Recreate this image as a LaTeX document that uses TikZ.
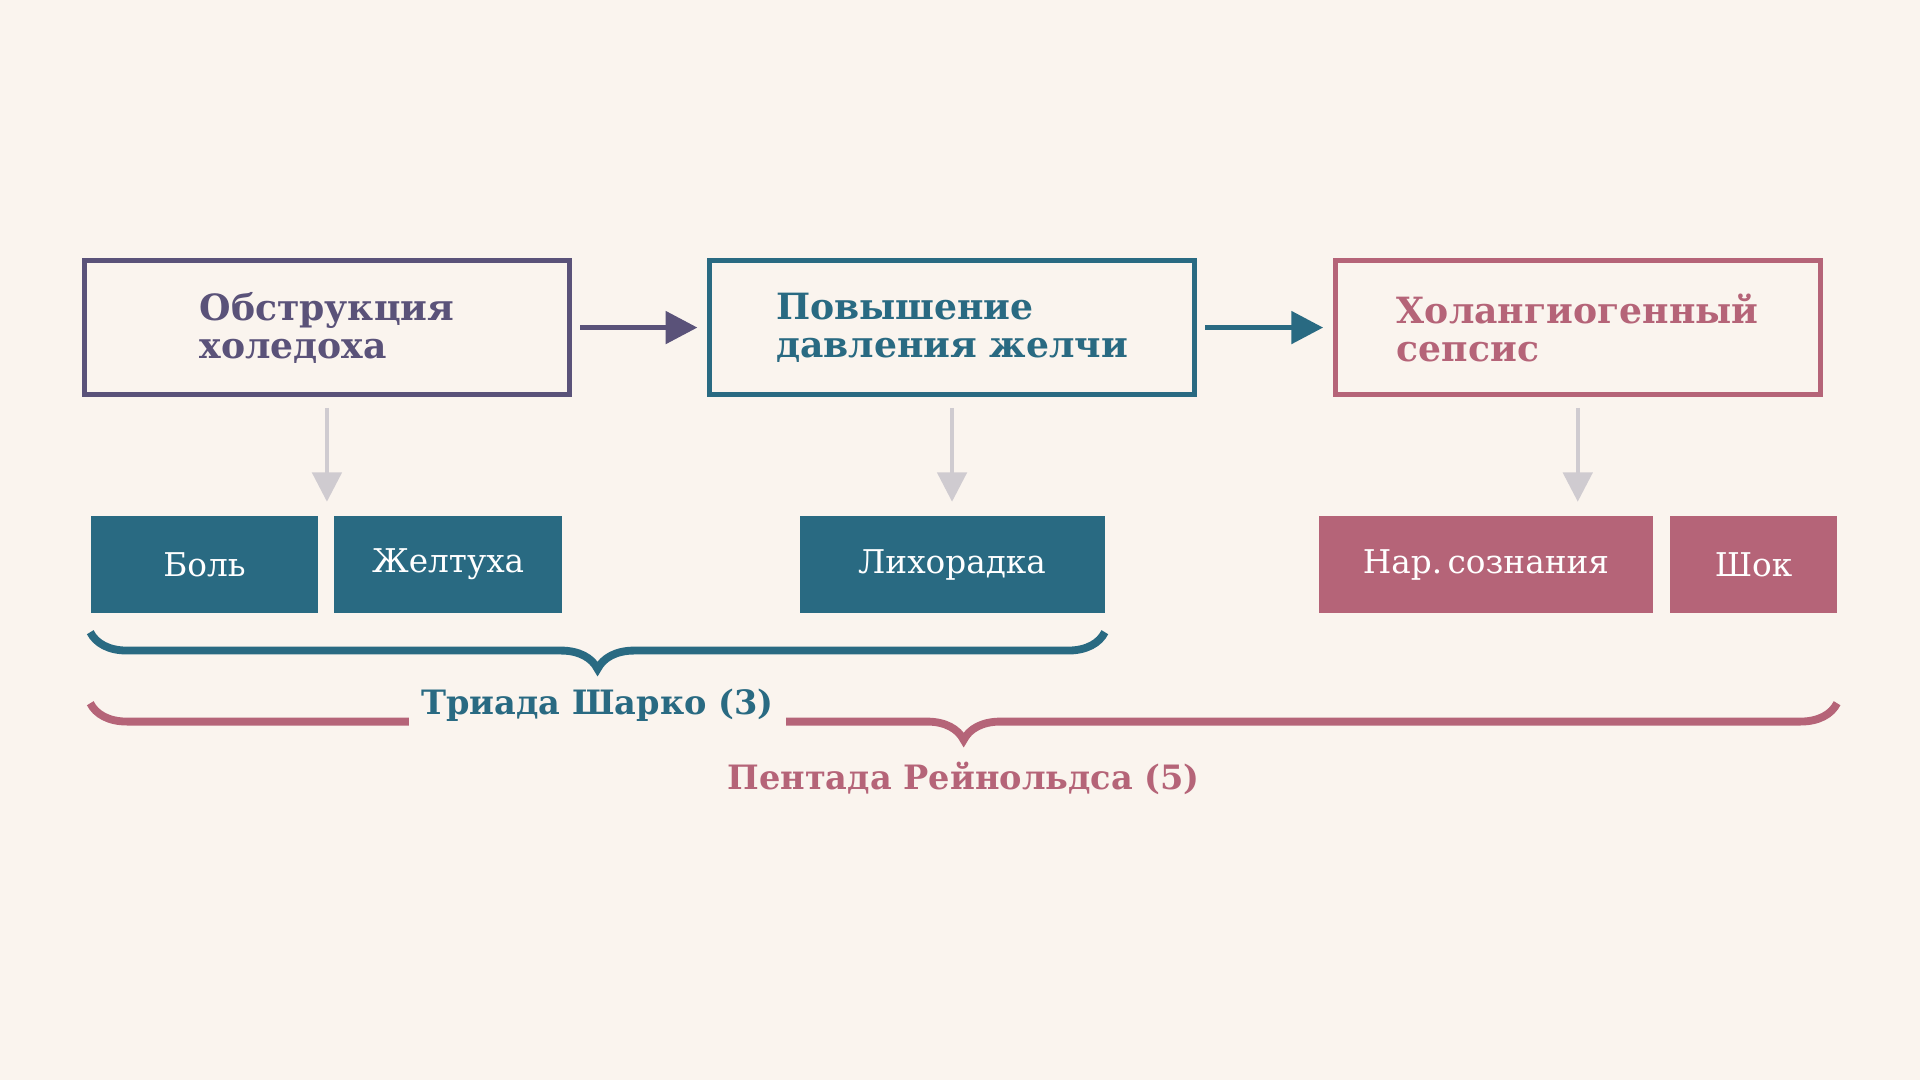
\documentclass[tikz,border=0pt]{standalone}
\usepackage{fontspec}
\setmainfont{DejaVu Serif}
\usetikzlibrary{arrows.meta,decorations.pathreplacing}
\definecolor{bgcol}{HTML}{FAF4EE}
\definecolor{obstrcol}{HTML}{5A5279}
\definecolor{davlcol}{HTML}{296A82}
\definecolor{sepscol}{HTML}{B56478}
\definecolor{greycol}{HTML}{CFCBD0}
\begin{document}
\begin{tikzpicture}[x=0.25mm,y=-0.25mm,
    titlebox/.style={draw=#1,text=#1,line width=0.95mm,minimum width=99mm,minimum height=27.3mm,
      align=left,font=\bfseries\fontsize{21}{22}\selectfont},
    signbox/.style={fill=#1,text=white,minimum height=20mm,inner sep=0pt,
      font=\fontsize{19}{19}\selectfont},
    flow/.style={draw=#1,line width=1.15mm,-{Triangle[length=6.5mm,width=6.5mm]},
      shorten <=1.75mm,shorten >=2mm},
    sympt/.style={draw=greycol,line width=0.8mm,-{Triangle[length=6mm,width=6mm]},
      shorten <=2.25mm,shorten >=2.75mm},
    grp/.style={draw=#1,decorate,decoration={brace,amplitude=7.5mm,mirror},line width=1.6mm},
    grplbl/.style={fill=bgcol,text=#1,inner sep=2.5mm,font=\bfseries\fontsize{19.5}{20}\selectfont}]

  \fill[bgcol] (0,0) rectangle (1568,882);

  \begin{scope}[shift={(267,0)}]
    \node[titlebox=obstrcol] (obstr) at (0,267.5) {Обструкция\\холедоха};
    \node[signbox=davlcol,minimum width=46.5mm] (bol) at (-100,461) {Боль};
    \node[signbox=davlcol,minimum width=46.5mm] (zhelt) at (99,461) {Желтуха};
    \draw[sympt] (obstr.south) -- (obstr.south |- bol.north);
  \end{scope}

  \begin{scope}[shift={(777.5,0)}]
    \node[titlebox=davlcol] (davl) at (0,267.5) {Повышение\\давления желчи};
    \node[signbox=davlcol,minimum width=62.25mm] (likh) at (0,461) {Лихорадка};
    \draw[sympt] (davl.south) -- (davl.south |- likh.north);
  \end{scope}

  \begin{scope}[shift={(1288.5,0)}]
    \node[titlebox=sepscol] (seps) at (0,267.5) {Холангиогенный\\сепсис};
    \node[signbox=sepscol,minimum width=68.25mm] (narsozn) at (-75,461) {Нар.\,сознания};
    \node[signbox=sepscol,minimum width=34mm] (shok) at (143.5,461) {Шок};
    \draw[sympt] (seps.south) -- (seps.south |- shok.north);
  \end{scope}

  \draw[flow=obstrcol] (obstr) -- (davl);
  \draw[flow=davlcol] (davl) -- (seps);

  \coordinate (triL) at ([yshift=-3.75mm]bol.south west);
  \coordinate (triR) at ([yshift=-3.75mm]likh.south east);
  \coordinate (pentL) at ([yshift=-18.25mm]bol.south west);
  \coordinate (pentR) at ([yshift=-18.25mm]shok.south east);
  \draw[grp=davlcol] (triL) -- (triR);
  \draw[grp=sepscol] (pentL) -- (pentR);
  \node[grplbl=davlcol] (triada) at (488,576) {Триада Шарко (3)};
  \node[grplbl=sepscol] (pentada) at (787,636) {Пентада Рейнольдса (5)};
\end{tikzpicture}
\end{document}
